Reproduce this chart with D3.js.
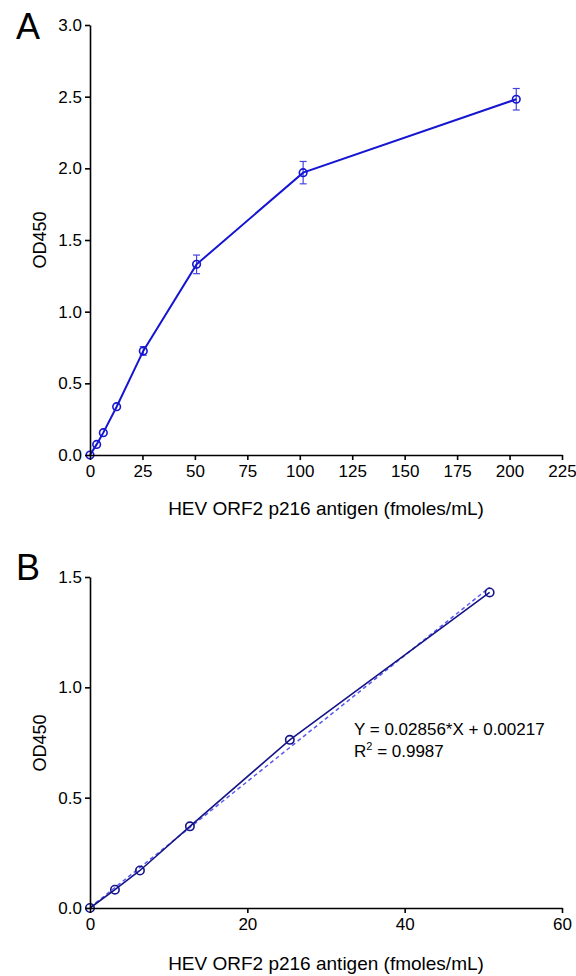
<!DOCTYPE html>
<html><head><meta charset="utf-8">
<script src="https://cdn.jsdelivr.net/npm/d3@7"></script>
<style>body{margin:0;background:#fff}svg{display:block}text{font-family:"Liberation Sans",Arial,sans-serif}</style>
</head><body>
<script>
// Panel A data
const concA = [0, 3.17, 6.35, 12.7, 25.4, 50.8, 101.6, 203.2];
const odA = [0, 0.074, 0.156, 0.337, 0.726, 1.33, 1.97, 2.482];
const errA = [0, 0.01, 0.01, 0.012, 0.03, 0.065, 0.078, 0.075];
const xTicksA = [0, 25, 50, 75, 100, 125, 150, 175, 200, 225];
const yTicksA = [0, 0.5, 1.0, 1.5, 2.0, 2.5, 3.0];
// Panel B data
const concB = [0, 3.17, 6.35, 12.7, 25.4, 50.8];
const odB = [0, 0.083, 0.170, 0.370, 0.762, 1.430];
const xTicksB = [0, 20, 40, 60];
const yTicksB = [0, 0.5, 1.0, 1.5];
const fitSlope = 0.02856, fitIntercept = 0.00217;
const fitText = "Y = 0.02856*X + 0.00217";
const r2Text = "0.9987";
const xTitle = "HEV ORF2 p216 antigen (fmoles/mL)";
const yTitle = "OD450";

const svg = d3.select("body").append("svg").attr("width", 576).attr("height", 976);

function axes(g, x, y, xt, yt, xFmt, yFmt, titleY, yLabelY, letter, letterY) {
  const xa = g.append("g").attr("transform", `translate(0,${y.range()[0]})`)
    .call(d3.axisBottom(x).tickValues(xt).tickFormat(xFmt).tickSize(5).tickSizeOuter(0).tickPadding(5));
  const ya = g.append("g").attr("transform", `translate(${x.range()[0]},0)`)
    .call(d3.axisLeft(y).tickValues(yt).tickFormat(yFmt).tickSize(5).tickSizeOuter(0).tickPadding(3));
  [xa, ya].forEach(a => {
    a.selectAll("path,line").attr("stroke", "#000").attr("stroke-width", 1.6);
    a.selectAll("text").attr("font-size", 17).attr("fill", "#000").attr("font-family", "Liberation Sans, Arial, sans-serif");
  });
  g.append("text").attr("x", (x.range()[0] + x.range()[1]) / 2).attr("y", titleY)
    .attr("text-anchor", "middle").attr("font-size", 19).text(xTitle);
  g.append("text").attr("transform", `translate(46,${yLabelY}) rotate(-90)`)
    .attr("text-anchor", "middle").attr("font-size", 18).text(yTitle);
  g.append("text").attr("x", 16).attr("y", letterY).attr("font-size", 36).text(letter);
}

// Panel A
const xA = d3.scaleLinear().domain([0, 225]).range([90, 562]);
const yA = d3.scaleLinear().domain([0, 3]).range([455, 25]);
const gA = svg.append("g");
const blueA = "#1515d2";
const ptsA = concA.map((c, i) => ({x: c, y: odA[i], e: errA[i]}));
gA.selectAll(".eb").data(ptsA.filter(d => d.e > 0.02)).join("g").each(function(d) {
  const g = d3.select(this);
  const cx = xA(d.x);
  g.append("line").attr("x1", cx).attr("x2", cx).attr("y1", yA(d.y + d.e)).attr("y2", yA(d.y - d.e)).attr("stroke", "#4444dd").attr("stroke-width", 1.2);
  [d.y + d.e, d.y - d.e].forEach(v => g.append("line").attr("x1", cx - 3.5).attr("x2", cx + 3.5).attr("y1", yA(v)).attr("y2", yA(v)).attr("stroke", "#4444dd").attr("stroke-width", 1.2));
});
gA.append("path").datum(ptsA).attr("fill", "none").attr("stroke", blueA).attr("stroke-width", 2)
  .attr("d", d3.line().x(d => xA(d.x)).y(d => yA(d.y)));
gA.selectAll("circle").data(ptsA).join("circle").attr("cx", d => xA(d.x)).attr("cy", d => yA(d.y)).attr("r", 3.8)
  .attr("fill", "none").attr("stroke", blueA).attr("stroke-width", 1.6);
axes(gA, xA, yA, xTicksA, yTicksA, d3.format("d"), d3.format(".1f"), 515, 240, "A", 39);

// Panel B
const xB = d3.scaleLinear().domain([0, 60]).range([90, 562]);
const yB = d3.scaleLinear().domain([0, 1.5]).range([908, 577]);
const gB = svg.append("g");
const navy = "#141488";
const ptsB = concB.map((c, i) => ({x: c, y: odB[i]}));
const xMax = d3.max(concB);
gB.append("line").attr("x1", xB(0)).attr("y1", yB(fitIntercept)).attr("x2", xB(xMax)).attr("y2", yB(fitSlope * xMax + fitIntercept))
  .attr("stroke", "#5a5aee").attr("stroke-width", 1.5).attr("stroke-dasharray", "4,3");
gB.append("path").datum(ptsB).attr("fill", "none").attr("stroke", navy).attr("stroke-width", 1.6)
  .attr("d", d3.line().x(d => xB(d.x)).y(d => yB(d.y)));
gB.selectAll("circle").data(ptsB).join("circle").attr("cx", d => xB(d.x)).attr("cy", d => yB(d.y)).attr("r", 4.2)
  .attr("fill", "none").attr("stroke", navy).attr("stroke-width", 1.6);
gB.append("text").attr("x", 354).attr("y", 735).attr("font-size", 17).text(fitText);
const r2 = gB.append("text").attr("x", 354).attr("y", 757).attr("font-size", 17);
r2.append("tspan").text("R");
r2.append("tspan").attr("dy", -7).attr("font-size", 11).text("2");
r2.append("tspan").attr("dy", 7).text(" = " + r2Text);
axes(gB, xB, yB, xTicksB, yTicksB, d3.format("d"), d3.format(".1f"), 970, 743, "B", 580);
</script>
</body></html>
